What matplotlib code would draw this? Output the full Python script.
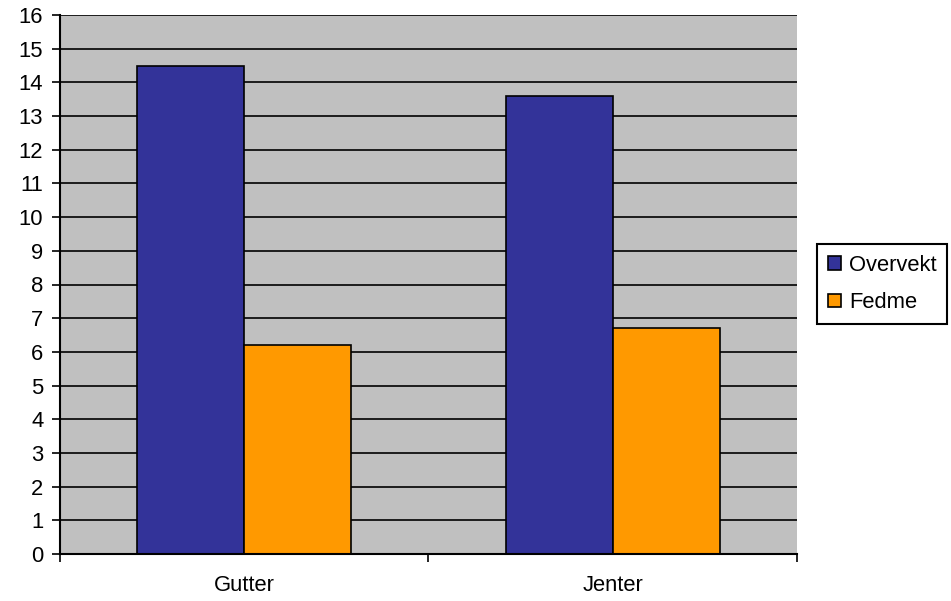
import matplotlib
matplotlib.use("Agg")
import matplotlib.pyplot as plt
import numpy as np

categories = ["Gutter", "Jenter"]
series_names = ["Overvekt", "Fedme"]
overvekt = [14.5, 13.6]
fedme = [6.2, 6.7]
y_ticks = list(range(0, 17))

plt.rcParams['font.family'] = ['Liberation Sans', 'DejaVu Sans']

fig = plt.figure(figsize=(9.51, 6.01), dpi=100)
ax = fig.add_axes([60/951, 1-554/601, (797-60)/951, (554-15)/601])
ax.set_facecolor('#C0C0C0')

x = np.arange(len(categories))
w = 0.29
ax.bar(x - w/2, overvekt, w, color='#333399', edgecolor='black', linewidth=1.2, label=series_names[0], zorder=3)
ax.bar(x + w/2, fedme, w, color='#FF9900', edgecolor='black', linewidth=1.2, label=series_names[1], zorder=3)

fs = 15.8
ax.set_xlim(-0.5, len(categories) - 0.5)
ax.set_ylim(0, 16)
ax.set_yticks(y_ticks)
ax.set_xticks(np.arange(len(categories) + 1) - 0.5)
ax.set_xticklabels([])
ax.set_xticks(x, minor=True)
ax.set_xticklabels(categories, minor=True)
ax.tick_params(axis='x', which='minor', length=0, pad=15, labelsize=fs)
ax.tick_params(axis='x', which='major', direction='out', length=6, width=1.2)
ax.tick_params(axis='y', direction='out', length=6, width=1.2, labelsize=fs, pad=6)
ax.yaxis.grid(True, color='black', linewidth=1.2, zorder=1)
ax.set_axisbelow(True)
for s in ['top', 'right']:
    ax.spines[s].set_visible(False)
for s in ['left', 'bottom']:
    ax.spines[s].set_linewidth(1.5)
    ax.spines[s].set_zorder(4)

leg = fig.legend(loc='center left', bbox_to_anchor=(817/951, 1-284/601), fontsize=fs,
                 frameon=True, fancybox=False, edgecolor='black', framealpha=1,
                 handlelength=0.6, handleheight=0.6, handletextpad=0.35,
                 borderpad=0.5, labelspacing=0.75, borderaxespad=0)
leg.get_frame().set_linewidth(1.5)

fig.savefig('out.png', dpi=100, facecolor='white')
